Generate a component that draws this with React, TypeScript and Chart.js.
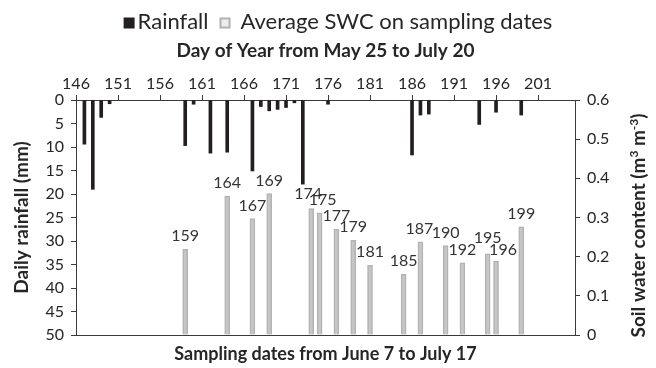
import React, { useEffect, useRef } from 'react';
import { Chart, registerables } from 'chart.js';

Chart.register(...registerables);

// ---- data ----
const rainDays = [147, 148, 149, 150, 159, 160, 162, 164, 167, 168, 169, 170, 171, 172, 173, 176, 186, 187, 188, 194, 196, 199];
const rainMm = [9.4, 19.0, 3.7, 0.8, 9.7, 0.9, 11.3, 11.1, 15.1, 1.4, 2.3, 2.0, 1.6, 0.6, 17.9, 0.9, 11.7, 3.2, 3.0, 5.2, 2.6, 3.2];
const sampleDays = [159, 164, 167, 169, 174, 175, 177, 179, 181, 185, 187, 190, 192, 195, 196, 199];
const swcValues = [0.219, 0.355, 0.297, 0.361, 0.323, 0.312, 0.27, 0.242, 0.178, 0.155, 0.238, 0.228, 0.184, 0.207, 0.188, 0.276];
const dayTicks = [146, 151, 156, 161, 166, 171, 176, 181, 186, 191, 196, 201];
const rainTicks = [0, 5, 10, 15, 20, 25, 30, 35, 40, 45, 50];
const swcTicks = [0, 0.1, 0.2, 0.3, 0.4, 0.5, 0.6];

const legendLabels = ['Rainfall', 'Average SWC on sampling dates'];
const topTitle = 'Day of Year from May 25 to July 20';
const bottomTitle = 'Sampling dates from June 7 to July 17';
const leftTitle = 'Daily rainfall (mm)';

// ---- styles ----
const FONT = 'Lato';
const TEXT = '#262626';
const AXIS = '#3a3a3a';
const RAIN_COLOR = '#231f20';
const SWC_FILL = '#c6c6c6';
const SWC_BORDER = '#b3b3b3';
// label nudges (style only) for overlapping labels
const labelNudge: Record<number, [number, number]> = {
  174: [-3, -2],
  175: [3, 0],
  187: [-1, 0],
  195: [0, -3],
  196: [7, 1],
};

const labelPlugin = {
  id: 'swcLabels',
  afterDatasetsDraw(chart: any) {
    const ctx = chart.ctx;
    const meta = chart.getDatasetMeta(1);
    ctx.save();
    ctx.font = `16px ${FONT}`;
    ctx.fillStyle = '#333333';
    ctx.textAlign = 'center';
    ctx.textBaseline = 'middle';
    meta.data.forEach((el: any, i: number) => {
      const day = sampleDays[i];
      const [dx, dy] = labelNudge[day] || [0, 0];
      ctx.fillText(String(day), el.x + dx, el.y - 13 + dy);
    });
    ctx.restore();
  },
};

const legendPlugin = {
  id: 'customLegend',
  afterDraw(chart: any) {
    const ctx = chart.ctx;
    ctx.save();
    ctx.font = `22px ${FONT}`;
    ctx.textBaseline = 'middle';
    ctx.fillStyle = TEXT;
    const box = 11;
    const w1 = ctx.measureText(legendLabels[0]).width;
    const w2 = ctx.measureText(legendLabels[1]).width;
    const total = box + 3 + w1 + 11 + box + 10 + w2;
    const cx = 338;
    const cy = 22;
    let x = cx - total / 2;
    ctx.fillStyle = RAIN_COLOR;
    ctx.fillRect(x, cy - box / 2 + 1, box, box);
    x += box + 3;
    ctx.fillStyle = TEXT;
    ctx.fillText(legendLabels[0], x, cy);
    x += w1 + 11;
    ctx.fillStyle = '#ededed';
    ctx.fillRect(x, cy - box / 2 + 1, box, box);
    ctx.strokeStyle = SWC_BORDER;
    ctx.lineWidth = 2;
    ctx.strokeRect(x + 1, cy - box / 2 + 2, box - 2, box - 2);
    x += box + 10;
    ctx.fillStyle = TEXT;
    ctx.fillText(legendLabels[1], x, cy);
    ctx.restore();
  },
};

const rightTitlePlugin = {
  id: 'rightTitle',
  afterDraw(chart: any) {
    const ctx = chart.ctx;
    const { top, bottom } = chart.chartArea;
    const big = `bold 19px ${FONT}`;
    const small = `bold 12px ${FONT}`;
    const parts: [string, string, number][] = [
      ['Soil water content (m', big, 0],
      ['3', small, -7],
      [' m', big, 0],
      ['-3', small, -7],
      [')', big, 0],
    ];
    ctx.save();
    let total = 0;
    const widths = parts.map(([t, f]) => {
      ctx.font = f;
      const w = ctx.measureText(t).width;
      total += w;
      return w;
    });
    ctx.translate(638, (top + bottom) / 2 + 8);
    ctx.rotate(-Math.PI / 2);
    ctx.fillStyle = TEXT;
    ctx.textBaseline = 'alphabetic';
    ctx.textAlign = 'left';
    let x = -total / 2;
    parts.forEach(([t, f, dy], i) => {
      ctx.font = f;
      ctx.fillText(t, x, 7 + dy);
      x += widths[i];
    });
    ctx.restore();
  },
};

export default function App() {
  const ref = useRef<HTMLCanvasElement | null>(null);

  useEffect(() => {
    if (!ref.current) return;
    Chart.defaults.font.family = FONT;
    Chart.defaults.color = TEXT;
    const gridTicks = {
      display: true,
      drawOnChartArea: false,
      drawTicks: true,
      tickLength: 5,
      color: AXIS,
      lineWidth: 1,
    };
    const border = { display: true, color: AXIS, width: 1 };
    const chart = new Chart(ref.current, {
      type: 'bar',
      data: {
        datasets: [
          {
            label: legendLabels[0],
            data: rainDays.map((d, i) => ({ x: d, y: rainMm[i] })),
            xAxisID: 'x',
            yAxisID: 'y',
            backgroundColor: RAIN_COLOR,
            borderWidth: 0,
            barThickness: 3,
            grouped: false,
          } as any,
          {
            label: legendLabels[1],
            data: sampleDays.map((d, i) => ({ x: d, y: swcValues[i] })),
            xAxisID: 'x',
            yAxisID: 'y2',
            backgroundColor: SWC_FILL,
            borderColor: SWC_BORDER,
            borderWidth: 1.5,
            barThickness: 5,
            grouped: false,
          } as any,
        ],
      },
      options: {
        responsive: false,
        animation: false,
        layout: { padding: 0 },
        plugins: {
          legend: { display: false },
          tooltip: { enabled: false },
        },
        scales: {
          x: {
            type: 'linear',
            position: 'top',
            min: 146,
            max: 205.4,
            offset: false,
            afterBuildTicks: (s: any) => {
              s.ticks = dayTicks.map((v) => ({ value: v }));
            },
            afterFit: (s: any) => {
              s.height = 100;
            },
            ticks: {
              font: { size: 16 },
              padding: 2,
              maxRotation: 0,
              autoSkip: false,
              callback: (v: any) => String(v),
            },
            grid: { ...gridTicks, offset: false },
            border,
            title: {
              display: true,
              text: topTitle,
              font: { size: 19, weight: 'bold' },
              padding: { top: 39, bottom: 0 },
            },
          },
          x2: {
            type: 'linear',
            position: 'bottom',
            min: 146,
            max: 205.4,
            offset: false,
            afterFit: (s: any) => {
              s.height = 33;
            },
            ticks: { display: false },
            grid: { display: false, drawTicks: false },
            border,
            title: {
              display: true,
              text: bottomTitle,
              font: { size: 18, weight: 'bold' },
              padding: { top: 0, bottom: 3 },
            },
          },
          y: {
            type: 'linear',
            position: 'left',
            reverse: true,
            min: 0,
            max: 50,
            afterBuildTicks: (s: any) => {
              s.ticks = rainTicks.map((v) => ({ value: v }));
            },
            afterFit: (s: any) => {
              s.width = 76;
            },
            ticks: {
              font: { size: 16 },
              padding: 7,
              callback: (v: any) => String(v),
            },
            grid: gridTicks,
            border,
            title: {
              display: true,
              text: leftTitle,
              font: { size: 19, weight: 'bold' },
              padding: { top: 10, bottom: 0 },
            },
          },
          y2: {
            type: 'linear',
            position: 'right',
            min: 0,
            max: 0.6,
            afterBuildTicks: (s: any) => {
              s.ticks = swcTicks.map((v) => ({ value: v }));
            },
            afterFit: (s: any) => {
              s.width = 81;
            },
            ticks: {
              font: { size: 16 },
              padding: 7,
              callback: (v: any) => (Number(v) === 0 ? '0' : Number(v).toFixed(1)),
            },
            grid: gridTicks,
            border,
          },
        },
      } as any,
      plugins: [labelPlugin, legendPlugin, rightTitlePlugin],
    });
    return () => chart.destroy();
  }, []);

  return (
    <div style={{ position: 'absolute', left: 0, top: 0, width: 656, height: 368, background: '#fff' }}>
      <canvas ref={ref} width={656} height={368} style={{ display: 'block' }} />
    </div>
  );
}
